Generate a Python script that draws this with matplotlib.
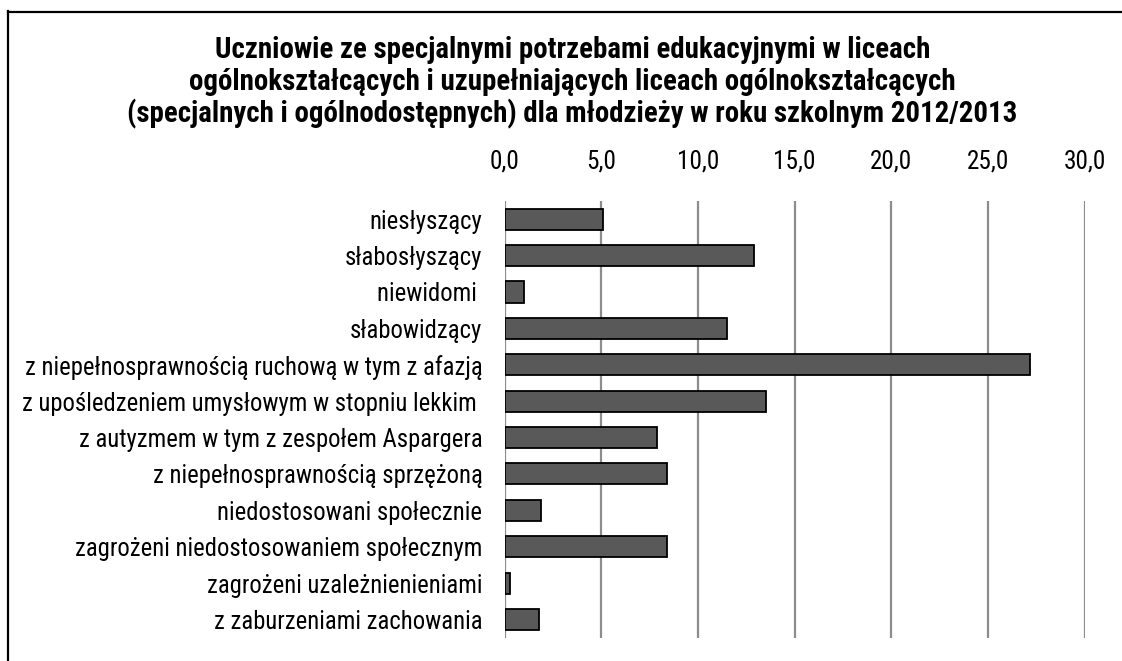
import matplotlib
matplotlib.use("Agg")
import matplotlib.pyplot as plt
from matplotlib.lines import Line2D
from matplotlib import font_manager

title_lines = [
    "Uczniowie ze specjalnymi potrzebami edukacyjnymi w liceach",
    "ogólnokształcących i uzupełniających liceach ogólnokształcących",
    "(specjalnych i ogólnodostępnych) dla młodzieży w roku szkolnym 2012/2013",
]

categories = [
    "niesłyszący",
    "słabosłyszący",
    "niewidomi ",
    "słabowidzący",
    "z niepełnosprawnością ruchową w tym z afazją",
    "z upośledzeniem umysłowym w stopniu lekkim ",
    "z autyzmem w tym z zespołem Aspargera",
    "z niepełnosprawnością sprzężoną",
    "niedostosowani społecznie",
    "zagrożeni niedostosowaniem społecznym",
    "zagrożeni uzależnienieniami",
    "z zaburzeniami zachowania",
]
values = [5.1, 12.9, 1.0, 11.5, 27.2, 13.5, 7.9, 8.4, 1.9, 8.4, 0.3, 1.8]
ticks = [0, 5, 10, 15, 20, 25, 30]
tick_labels = ["0,0", "5,0", "10,0", "15,0", "20,0", "25,0", "30,0"]

NARROW = ['Arial Narrow', 'Liberation Sans Narrow', 'Roboto Condensed', 'PT Sans Narrow',
          'Archivo Narrow', 'Open Sans Condensed', 'IBM Plex Sans Condensed',
          'Sofia Sans Condensed', 'Asap Condensed', 'Liberation Sans']

installed = {}
for f in font_manager.fontManager.ttflist:
    installed.setdefault(f.name, set()).add(f.weight if isinstance(f.weight, int) else 400)


def pick_font(bold):
    for name in NARROW:
        weights = installed.get(name, set())
        if bold and any(w >= 600 for w in weights):
            return name
        if not bold and 400 in weights:
            return name
    return 'DejaVu Sans'


FONT = pick_font(False)
FONT_BOLD = pick_font(True)
plt.rcParams['font.family'] = [FONT, 'DejaVu Sans']

W, H = 1122, 661
fig = plt.figure(figsize=(W / 100, H / 100), dpi=100)
renderer = fig.canvas.get_renderer()


def fit_size(text, width_px, family, weight='normal'):
    """Font size (pt) that makes `text` span `width_px` pixels."""
    t = fig.text(0, 0, text, fontsize=10, fontweight=weight, family=[family, 'DejaVu Sans'])
    w = t.get_window_extent(renderer).width
    t.remove()
    return 10 * width_px / w


label_size = fit_size(categories[4], 454, FONT)
tick_size = fit_size("30,0", 42, FONT)
title_size = fit_size(title_lines[2], 890, FONT_BOLD, 'bold')

# outer chart frame (left and top edges)
fig.add_artist(Line2D([7.5 / W, 7.5 / W], [1 - 11 / H, 0], transform=fig.transFigure,
                      color='black', lw=1.6))
fig.add_artist(Line2D([7.5 / W, 1.0], [1 - 11.5 / H, 1 - 11.5 / H], transform=fig.transFigure,
                      color='black', lw=1.6))

left, right, top, bottom = 504.7, 1084.5, 201, 637.7
ax = fig.add_axes([left / W, 1 - bottom / H, (right - left) / W, (bottom - top) / H])

pos = list(range(len(categories)))
ax.barh(pos, values, height=0.58, color='#595959', edgecolor='black', linewidth=1.3, zorder=3)

ax.set_xlim(0, 30)
ax.set_ylim(len(categories) - 0.5, -0.5)
ax.set_xticks(ticks)
ax.set_xticklabels(tick_labels, fontsize=tick_size)
ax.xaxis.tick_top()
ax.tick_params(axis='x', length=0, pad=20)
ax.set_yticks(pos)
ax.set_yticklabels(categories, fontsize=label_size)
ax.tick_params(axis='y', length=0, pad=16)
for s in ax.spines.values():
    s.set_visible(False)
ax.grid(axis='x', color='#8c8c8c', linewidth=1.6, zorder=0)
ax.set_axisbelow(True)

line_y = [47, 79, 111]
for txt, y in zip(title_lines, line_y):
    fig.text(572.5 / W, 1 - y / H, txt, ha='center', va='center_baseline',
             fontsize=title_size, fontweight='bold', family=[FONT_BOLD, 'DejaVu Sans'])

fig.savefig("out.png", dpi=100)
